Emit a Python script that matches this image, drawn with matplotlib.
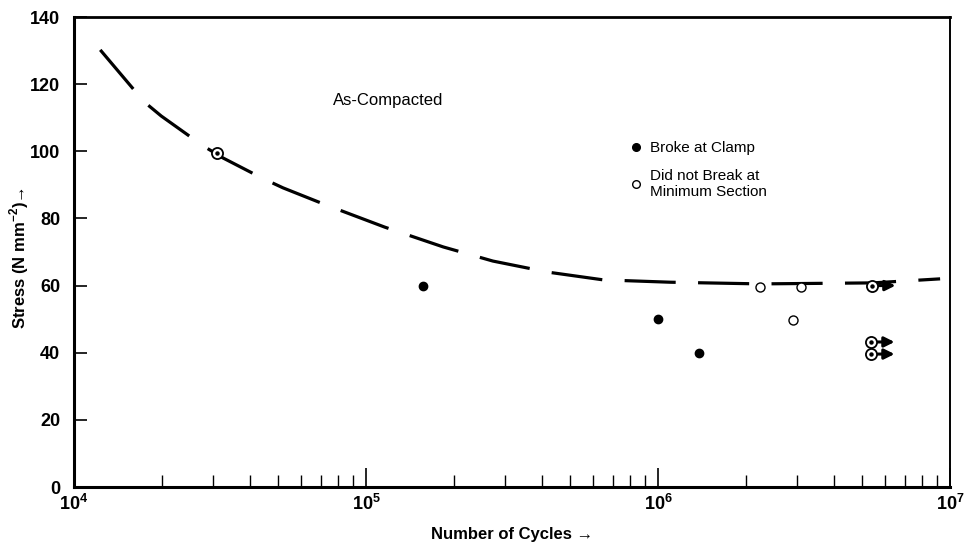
import numpy as np
import matplotlib
matplotlib.use("Agg")
import matplotlib.pyplot as plt
from matplotlib.lines import Line2D
from matplotlib.ticker import FixedLocator, LogLocator, NullFormatter

plt.rcParams['font.family'] = ['Liberation Sans', 'DejaVu Sans']
plt.rcParams['mathtext.fontset'] = 'custom'
plt.rcParams['mathtext.rm'] = 'Liberation Sans'
plt.rcParams['mathtext.bf'] = 'Liberation Sans:bold'

# fitted S-N curve
curve_n = [1.23e4, 1.74e4, 1.99e4, 2.77e4, 3.24e4, 4.41e4, 5.20e4, 7.30e4,
           1.16e5, 1.84e5, 2.72e5, 4.20e5, 6.49e5, 1.10e6, 2.23e6, 5.45e6, 9.25e6]
curve_s = [130.2, 114.7, 110.5, 101.6, 98.0, 92.0, 89.1, 84.0,
           77.4, 71.5, 67.3, 64.0, 61.7, 61.0, 60.5, 60.8, 62.0]

# broke at clamp (filled)
broke_n = [1.57e5, 1.0e6, 1.38e6]
broke_s = [60, 50, 40]

# did not break at minimum section (open)
open_n = [2.23e6, 3.09e6, 2.90e6]
open_s = [59.6, 59.6, 49.7]

# circle with dot
dot_n = [3.09e4, 5.4e6, 5.36e6, 5.36e6]
dot_s = [99.6, 60, 43.2, 39.6]
runout = [False, True, True, True]

x_ticks = [1e4, 1e5, 1e6, 1e7]
x_labels = ["$\\mathbf{10^{4}}$", "$\\mathbf{10^{5}}$", "$\\mathbf{10^{6}}$", "$\\mathbf{10^{7}}$"]
y_ticks = [0, 20, 40, 60, 80, 100, 120, 140]

fig = plt.figure(figsize=(9.78, 5.46), dpi=100)
ax = fig.add_axes([74 / 978, 1 - 487 / 546, 876 / 978, 470 / 546])

ax.plot(curve_n, curve_s, color="black", lw=2.3, dashes=(16, 7),
        solid_capstyle="butt", dash_capstyle="butt")

ax.plot(broke_n, broke_s, "o", ms=6, color="black", ls="none")
ax.plot(open_n, open_s, "o", ms=6.5, mfc="white", mec="black", mew=1.0, ls="none")
ax.plot(dot_n, dot_s, "o", ms=8, mfc="white", mec="black", mew=1.3, ls="none", zorder=4)
ax.plot(dot_n, dot_s, "o", ms=2.2, color="black", ls="none", zorder=5)

for n, s, r in zip(dot_n, dot_s, runout):
    if r:
        ax.annotate("", xy=(n, s), xytext=(17, 0), textcoords="offset points",
                    arrowprops=dict(arrowstyle="<|-", color="black", lw=2.2,
                                    mutation_scale=15, shrinkA=0, shrinkB=5))

ax.text(0.296, 0.823, "As-Compacted", transform=ax.transAxes, fontsize=12,
        ha="left", va="center")

handles = [
    Line2D([], [], marker="o", ls="none", color="black", ms=5.5),
    Line2D([], [], marker="o", ls="none", mfc="white", mec="black", mew=1.0, ms=5.5),
]
ax.legend(handles, ["Broke at Clamp", "Did not Break at\nMinimum Section"],
          loc="upper left", bbox_to_anchor=(0.628, 0.752), frameon=False,
          fontsize=11, handlelength=0.6, handletextpad=0.6, labelspacing=0.9,
          borderpad=0)

ax.set_xscale("log")
ax.set_xlim(1e4, 1e7)
ax.set_ylim(0, 140)
ax.xaxis.set_major_locator(FixedLocator(x_ticks))
ax.set_xticklabels(x_labels)
ax.xaxis.set_minor_locator(LogLocator(base=10, subs=np.arange(2, 10)))
ax.xaxis.set_minor_formatter(NullFormatter())
ax.set_yticks(y_ticks)

ax.tick_params(axis="both", which="major", direction="in", width=1.2,
               labelsize=13)
ax.tick_params(axis="x", which="major", length=14, pad=5)
ax.tick_params(axis="y", which="major", length=9, pad=10)
ax.tick_params(axis="x", which="minor", direction="in", length=9, width=1.0)
for lab in ax.get_yticklabels():
    lab.set_fontweight("bold")
for lab in ax.get_xticklabels():
    lab.set_fontweight("bold")

ax.spines["left"].set_linewidth(2.2)
ax.spines["bottom"].set_linewidth(2.2)
ax.spines["top"].set_linewidth(2.0)
ax.spines["right"].set_linewidth(1.4)

ax.set_xlabel("Number of Cycles \u2192", fontsize=12, fontweight="bold", labelpad=9)
fig.text(19 / 978, 1 - 258 / 546, "Stress (N mm$^{\\mathbf{-2}}$)\u2192", fontsize=12,
         fontweight="bold", rotation=90, ha="center", va="center")

fig.savefig("out.png", dpi=100)
